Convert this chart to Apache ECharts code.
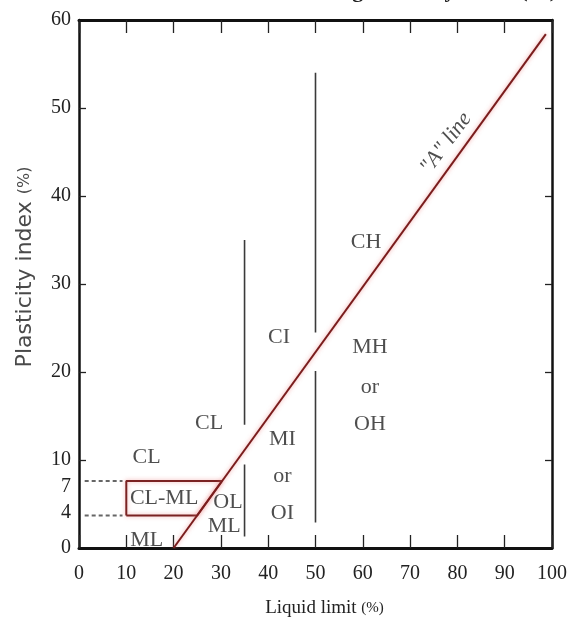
<!DOCTYPE html>
<html>
<head>
<meta charset="utf-8">
<script src="https://cdn.jsdelivr.net/npm/echarts@6/dist/echarts.min.js"></script>
<style>
  html, body { margin: 0; padding: 0; background: #fff; }
  #chart { width: 570px; height: 627px; }
</style>
</head>
<body>
<div id="chart"></div>
<script>
// ---- data ----
const xTicks = [0, 10, 20, 30, 40, 50, 60, 70, 80, 90, 100];
const yTickLabels = [0, 4, 7, 10, 20, 30, 40, 50, 60];
const yTickMarks = [10, 20, 30, 40, 50];

// "A" line: PI = 0.73 (LL - 20)
const aLineLL = [20, 98.7];
const aLinePI = [0, 58.4];

// vertical boundaries (LL, PI from, PI to) with gaps around the A-line
const boundaryLL   = [35, 35, 50, 50];
const boundaryFrom = [1.3, 14.0, 2.9, 24.5];
const boundaryTo   = [9.5, 35.0, 20.1, 54.0];

// CL-ML zone outline
const zoneLL = [10, 25.0, 30.2, 10, 10];
const zonePI = [3.7, 3.7, 7.6, 7.6, 3.7];

// dotted guides from the axis to the zone
const guideLL = [1.2, 9.2];
const guidePI = [7.6, 3.7];

// zone labels
const zoneTexts = ['CL', 'CL-ML', 'ML', 'CL', 'OL', 'ML', 'MI', 'or', 'OI', 'CI', 'CH', 'MH', 'or', 'OH'];
const zoneTextLL = [14.3, 18.0, 14.3, 27.5, 31.5, 30.7, 43.0, 43.0, 43.0, 42.3, 60.7, 61.5, 61.5, 61.5];
const zoneTextPI = [10.3, 5.7, 0.9, 14.2, 5.2, 2.5, 12.4, 8.2, 3.9, 24.0, 34.7, 22.8, 18.3, 14.1];

const aLineText = '"A" line';
const aLineTextLL = 77.6;
const aLineTextPI = 46.0;

// ---- chart ----
const chart = echarts.init(document.getElementById('chart'));
const serif = 'Liberation Serif';
const axisColor = '#111';

const series = [];

series.push({
  type: 'line', name: 'A line', symbol: 'none', silent: true,
  data: aLineLL.map((v, i) => [v, aLinePI[i]]),
  lineStyle: { color: '#7a1d1d', width: 2, shadowColor: 'rgba(235,120,120,0.7)', shadowBlur: 4 },
  z: 5
});

boundaryLL.forEach((ll, i) => {
  series.push({
    type: 'line', symbol: 'none', silent: true,
    data: [[ll, boundaryFrom[i]], [ll, boundaryTo[i]]],
    lineStyle: { color: '#3a3a3a', width: 1.6 },
    z: 3
  });
});

series.push({
  type: 'line', symbol: 'none', silent: true,
  data: zoneLL.map((v, i) => [v, zonePI[i]]),
  lineStyle: { color: '#7a2222', width: 2, shadowColor: 'rgba(235,120,120,0.6)', shadowBlur: 4 },
  z: 4
});

guidePI.forEach(pi => {
  series.push({
    type: 'line', symbol: 'none', silent: true,
    data: guideLL.map(ll => [ll, pi]),
    lineStyle: { color: '#666', width: 2, type: [4, 3] },
    z: 3
  });
});

series.push({
  type: 'scatter', silent: true, symbolSize: 0,
  data: zoneTexts.map((t, i) => ({ value: [zoneTextLL[i], zoneTextPI[i]], name: t })),
  label: {
    show: true, position: 'inside', formatter: p => p.name,
    fontFamily: serif, fontSize: 22, color: '#222'
  },
  z: 6
});

series.push({
  type: 'scatter', silent: true, symbolSize: 0,
  data: [{ value: [aLineTextLL, aLineTextPI], name: aLineText }],
  label: {
    show: true, position: 'inside', formatter: p => p.name, rotate: 53,
    fontFamily: serif, fontStyle: 'italic', fontSize: 22, color: '#222'
  },
  z: 6
});

const option = {
  backgroundColor: '#fff',
  animation: false,
  graphic: [{
    type: 'text', x: 557, y: 2,
    style: {
      text: 'Soil Classification using Plasticity Index (%)',
      font: 'bold 22px "Liberation Serif"', fill: '#222',
      textAlign: 'right', textVerticalAlign: 'bottom'
    }
  }],
  grid: { left: 79, right: 16, top: 20, bottom: 79, containLabel: false },
  xAxis: [{
    type: 'value', position: 'bottom', min: 0, max: 100, interval: 10,
    axisLine: { show: true, onZero: false, lineStyle: { color: axisColor, width: 3 } },
    axisTick: { show: true, inside: true, length: 13, lineStyle: { color: '#222', width: 1.3 } },
    splitLine: { show: false },
    axisLabel: { fontFamily: serif, fontSize: 20, color: '#222', margin: 16, showMinLabel: true, showMaxLabel: true },
    name: 'Liquid limit {p|(%)}',
    nameLocation: 'middle', nameGap: 51,
    nameTextStyle: {
      fontFamily: serif, fontSize: 19, color: '#222', padding: [0, 0, 0, 18],
      rich: { p: { fontFamily: serif, fontSize: 15, color: '#222' } }
    }
  }, {
    type: 'value', position: 'top', min: 0, max: 100, interval: 10,
    axisLine: { show: true, onZero: false, lineStyle: { color: axisColor, width: 3 } },
    axisTick: { show: true, inside: true, length: 13, lineStyle: { color: '#222', width: 1.3 } },
    axisLabel: { show: false }, splitLine: { show: false }
  }],
  yAxis: [{
    type: 'value', position: 'left', min: 0, max: 60, interval: 10,
    axisLine: { show: true, onZero: false, lineStyle: { color: axisColor, width: 2.5 } },
    axisTick: { show: true, inside: true, length: 7, customValues: yTickMarks, lineStyle: { color: '#222', width: 1.3 } },
    splitLine: { show: false },
    axisLabel: { fontFamily: serif, fontSize: 20, color: '#222', margin: 8, customValues: yTickLabels },
    name: 'Plasticity index {p|(%)}',
    nameLocation: 'middle', nameGap: 43, nameRotate: 90,
    nameTextStyle: {
      fontFamily: 'DejaVu Sans', fontSize: 22, color: '#4a4a4a', padding: [0, 0, 0, 34],
      rich: { p: { fontFamily: 'DejaVu Sans', fontSize: 16, color: '#4a4a4a' } }
    }
  }, {
    type: 'value', position: 'right', min: 0, max: 60, interval: 10,
    axisLine: { show: true, onZero: false, lineStyle: { color: axisColor, width: 2.5 } },
    axisTick: { show: true, inside: true, length: 7, customValues: yTickMarks, lineStyle: { color: '#222', width: 1.3 } },
    axisLabel: { show: false }, splitLine: { show: false }
  }],
  series: series
};

chart.setOption(option);
</script>
</body>
</html>
